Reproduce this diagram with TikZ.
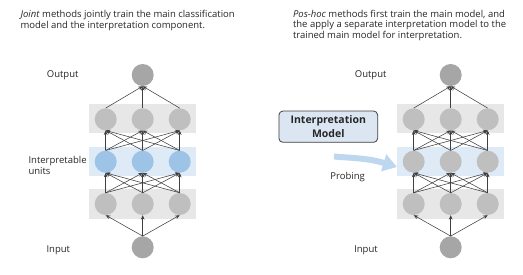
\documentclass[tikz,border=0pt]{standalone}
\usepackage{fontspec}
\setmainfont{Open Sans}
\usetikzlibrary{arrows.meta}

\definecolor{hidgray}{HTML}{BFBFBF}
\definecolor{iogray}{HTML}{A6A6A6}
\definecolor{bandgray}{HTML}{E7E7E7}
\definecolor{bandblue}{HTML}{DEEBF7}
\definecolor{unitblue}{HTML}{9DC3E6}
\definecolor{edgegray}{HTML}{404040}
\definecolor{probeblue}{HTML}{BDD7EE}
\definecolor{boxfill}{HTML}{DCE6F2}
\definecolor{txtgray}{HTML}{262626}

\tikzset{
  unit/.style={circle,minimum size=22pt,inner sep=0pt,fill=hidgray},
  iounit/.style={unit,fill=iogray},
  band/.style={minimum width=106.7pt,minimum height=29.3pt,inner sep=0pt},
  edge/.style={draw=edgegray,line width=0.55pt,-{Stealth[length=4.5pt,width=3.8pt]}},
  lbl/.style={text=txtgray,font=\fontsize{9.5}{10.5}\selectfont},
  header/.style={lbl,anchor=west,align=left},
  probebox/.style={draw=edgegray,line width=0.8pt,fill=boxfill,rounded corners=4pt,
    minimum width=98.7pt,minimum height=31.3pt,align=center,
    font=\bfseries\fontsize{10.5}{14.5}\selectfont,text=txtgray},
  probe/.style={draw=probeblue,line width=6pt,-{Triangle[width=17pt,length=14pt]}}
}

\begin{document}
\begin{tikzpicture}[x=1pt,y=-1pt]
  \useasboundingbox (0,0) rectangle (523,275);

  \node[header] (joint-txt) at (17,20.7)
    {\textit{Joint} methods jointly train the main classification\\model and the interpretation component.};
  \node[header] (post-txt) at (289.5,25.5)
    {\textit{Pos-hoc} methods first train the main model, and\\the apply a separate interpretation model to the\\trained main model for interpretation.};

  % two networks: name / x offset / colour of the middle units
  \foreach \n/\ox/\mc in {L/0/unitblue,R/308/hidgray}{
    \node[band,fill=bandgray] (\n-tband) at (142.7+\ox,118.7) {};
    \node[band,fill=bandblue] (\n-mband) at (142.7+\ox,161.3) {};
    \node[band,fill=bandgray] (\n-bband) at (142.7+\ox,204) {};
    \node[iounit] (\n-out) at (142.7+\ox,75) {};
    \node[iounit] (\n-in) at (142.7+\ox,247.3) {};
    \foreach \i/\dx in {1/-37,2/0,3/37}{
      \node[unit] (\n-t\i) at (142.7+\ox+\dx,119.3) {};
      \node[unit,fill=\mc] (\n-m\i) at (142.7+\ox+\dx,161.7) {};
      \node[unit] (\n-b\i) at (142.7+\ox+\dx,204) {};
    }
    \foreach \i in {1,2,3}{
      \draw[edge] (\n-t\i.north) -- (\n-out.south);
      \draw[edge] (\n-in.north) -- (\n-b\i.south);
      \foreach \j in {1,2,3}{
        \draw[edge] (\n-m\i.north) -- (\n-t\j.south);
        \draw[edge] (\n-b\i.north) -- (\n-m\j.south);
      }
    }
  }

  \node[lbl] (out-l) at (62.7,75) {Output};
  \node[lbl] (in-l) at (58.3,250) {Input};
  \node[lbl,anchor=west,align=left] (units-l) at (25,165.5) {Interpretable\\units};
  \node[lbl] (out-r) at (370.7,75) {Output};
  \node[lbl] (in-r) at (366,250) {Input};
  \node[lbl] (probe-l) at (347.7,177) {Probing};

  \node[probebox] (interp) at (328.3,126.7) {Interpretation\\Model};
  \coordinate (probe-start) at (334,156.5);
  \coordinate (probe-end) at (397,167);
  \draw[probe] (probe-start) .. controls (350,158) and (368,158) .. (probe-end);
\end{tikzpicture}
\end{document}
